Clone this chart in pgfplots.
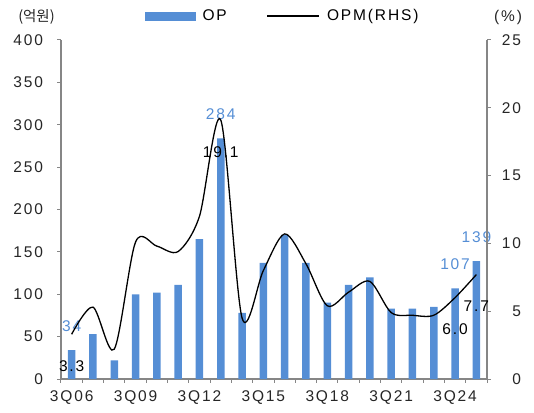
\documentclass[border=0pt]{standalone}
\usepackage{pgfplots}
\pgfplotsset{compat=1.18}
\usepackage{fontspec}
\setmainfont{Liberation Sans}[LetterSpace=12]
\newfontfamily\kr{Noto Sans CJK KR}
\definecolor{barblue}{RGB}{85,142,213}
\definecolor{axgray}{RGB}{134,134,134}
\definecolor{txt}{RGB}{38,38,38}
\begin{document}
\begin{tikzpicture}[font=\fontsize{15.5}{18}\selectfont]
\pgfplotsset{
  base/.style={
    at={(0,0)}, anchor=south west,
    scale only axis, width=426pt, height=339pt,
    xmin=-0.5, xmax=19.5, clip=false,
    axis line style={axgray, line width=1.2pt},
    every tick/.style={axgray, line width=1pt},
    tick align=outside, major tick length=3.5pt,
    tick label style={text=txt, font=\fontsize{15.5}{18}\selectfont},
    /pgf/number format/assume math mode=true,
  }
}
\begin{axis}[base,
  ymin=0, ymax=400,
  axis x line*=bottom, axis y line*=left,
  ytick={0,50,...,400},
  xtick={-0.5,0.5,...,19.5}, xticklabels={},
  extra x ticks={0,3,6,9,12,15,18},
  extra x tick labels={3Q06,3Q09,3Q12,3Q15,3Q18,3Q21,3Q24},
  extra x tick style={major tick length=0pt, xticklabel style={yshift=-8pt}},
  yticklabel style={xshift=-11pt},
  legend columns=2,
  legend style={draw=none, fill=none, at={(0.197,1.071)}, anchor=west,
    inner sep=0pt, font=\fontsize{15.5}{18}\selectfont,
    /tikz/every odd column/.append style={column sep=5pt},
    /tikz/every even column/.append style={column sep=38pt}},
]
\addlegendimage{legend image code/.code={\fill[barblue] (0pt,-4pt) rectangle (50pt,4pt);}}
\addlegendentry{OP}
\addlegendimage{legend image code/.code={\draw[black, line width=1.3pt] (0pt,0pt) -- (52pt,0pt);}}
\addlegendentry{OPM(RHS)}
\addplot[ybar, bar width=7.5pt, fill=barblue, draw=none, forget plot] coordinates {
(0,34) (1,53) (2,22) (3,100) (4,102) (5,111) (6,165) (7,284) (8,78) (9,137)
(10,170) (11,137) (12,90) (13,111) (14,120) (15,83) (16,83) (17,85) (18,107) (19,139)};
\addplot[draw=none, mark=none, forget plot, nodes near coords, point meta=explicit symbolic,
  every node near coord/.style={anchor=center, yshift=24pt, text=barblue,
    font=\fontsize{15.5}{18}\selectfont}] coordinates {
(0,34)[34] (7,284)[284] (18,107)[107] (19,139)[139]};
\end{axis}
\begin{axis}[base,
  ymin=0, ymax=25,
  axis x line=none, axis y line*=right,
  ytick={0,5,...,25},
  yticklabel style={anchor=east, xshift=34pt},
]
\addplot[black, line width=1.3pt, smooth] coordinates {
(0,3.3) (1,5.3) (2,2.2) (3,10.1) (4,9.8) (5,9.4) (6,12.0) (7,19.1) (8,4.5) (9,8.0)
(10,10.7) (11,8.5) (12,5.4) (13,6.4) (14,7.2) (15,4.9) (16,4.7) (17,4.7) (18,6.0) (19,7.7)};
\addplot[draw=none, mark=none, nodes near coords, point meta=explicit symbolic,
  every node near coord/.style={anchor=center, yshift=-32pt, text=black,
    font=\fontsize{15.5}{18}\selectfont}] coordinates {
(0,3.3)[3.3] (7,19.1)[19.1] (18,6.0)[6.0] (19,7.7)[7.7]};
\end{axis}
\node[text=txt, font=\fontsize{14.5}{18}\selectfont] at (-24.5pt,362pt) {\kr (억원)};
\node[text=txt] at (447pt,362pt) {(\%)};
\pgfresetboundingbox
\path (-61pt,-33pt) rectangle (473pt,379pt);
\end{tikzpicture}
\end{document}
